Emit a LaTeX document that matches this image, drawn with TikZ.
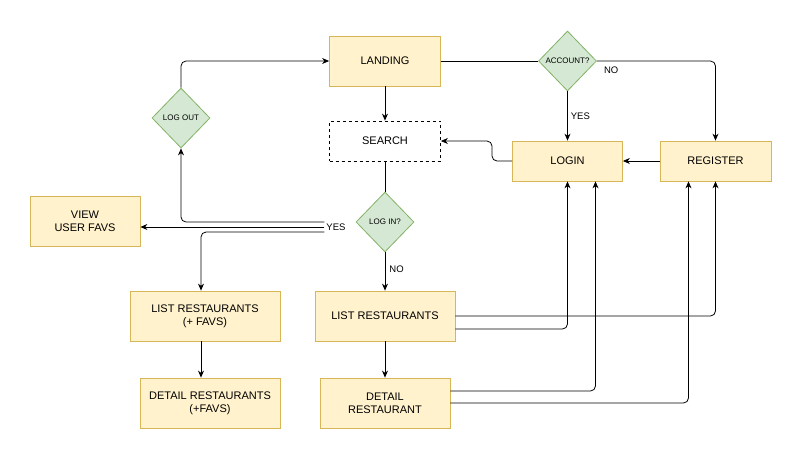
\documentclass[tikz,border=0pt]{standalone}
\usepackage{fontspec}
\setmainfont{Liberation Sans}
\usepackage{xcolor}
\usetikzlibrary{shapes.geometric, arrows.meta}
\definecolor{boxfill}{HTML}{FFF2CC}
\definecolor{boxline}{HTML}{D6B656}
\definecolor{choicefill}{HTML}{D5E8D4}
\definecolor{choiceline}{HTML}{82B366}
\tikzset{
  box/.style={draw=boxline, fill=boxfill, line width=0.8pt, align=center,
    font=\fontsize{11}{13}\selectfont, inner sep=0pt},
  choice/.style={diamond, draw=choiceline, fill=choicefill, line width=0.8pt,
    inner sep=0pt, minimum width=58pt, minimum height=60pt,
    font=\fontsize{8}{9}\selectfont},
  flow/.style={line width=0.8pt, rounded corners=5pt, -{Stealth[length=7pt,width=6pt]}},
  plain/.style={line width=0.8pt, rounded corners=5pt},
  tag/.style={font=\fontsize{9.5}{10}\selectfont, inner sep=1pt}
}
\begin{document}
\begin{tikzpicture}[x=1pt, y=-1pt]
  \useasboundingbox (0,0) rectangle (801,459);
  % Top row
  \node [box, minimum width=111pt, minimum height=50pt] (landing) at (385,61) {LANDING};
  \node [box, draw=black, fill=white, dashed, minimum width=111pt, minimum height=40pt] (search) at (385,141) {SEARCH};
  \node [choice] (account) at (567.5,61) {ACCOUNT?};
  \node [box, minimum width=110pt, minimum height=40pt] (login) at (567.5,161) {LOGIN};
  \node [box, minimum width=111pt, minimum height=40pt] (register) at (715.5,161) {REGISTER};
  % Middle
  \node [choice] (logout) at (181,118) {LOG OUT};
  \node [choice] (logincheck) at (385,222) {LOG IN?};
  \node [box, minimum width=110pt, minimum height=50pt] (favs) at (85,221) {VIEW\\USER FAVS};
  \node [tag, inner sep=2pt] (yes) at (336,227) {YES};
  % Bottom rows
  \node [box, minimum width=150pt, minimum height=50pt] (listfav) at (205,316) {LIST RESTAURANTS\\(+ FAVS)};
  \node [box, minimum width=140pt, minimum height=50pt] (detailfav) at (210,403) {DETAIL RESTAURANTS\\(+FAVS)};
  \node [box, minimum width=140pt, minimum height=50pt] (list) at (385,316) {LIST RESTAURANTS};
  \node [box, minimum width=130pt, minimum height=50pt] (detail) at (385,403) {DETAIL\\RESTAURANT};
  % Connectors
  \draw [flow] (logout.north) |- (landing.west);
  \draw [flow] (landing.south) -- (search.north);
  \draw [plain] (landing.east) -- (account.west);
  \draw [flow] (account.east) -| node [tag, pos=0.06, below, yshift=-4pt] {NO} (register.north);
  \draw [flow] (account.south) -- node [tag, right, xshift=2pt] {YES} (login.north);
  \draw [flow] (register.west) -- (login.east);
  \draw [flow] (login.west) -- (492,161) -- (492,141) -- (search.east);
  \draw [plain] (search.south) -- (logincheck.north);
  \draw [flow] (logincheck.south) -- node [tag, right, pos=0.45, xshift=3pt] {NO} (list.north);
  \draw [flow] ([yshift=5pt]yes.west) -| (logout.south);
  \draw [flow] (yes.west) -- (yes.west -| favs.east);
  \draw [flow] ([yshift=-5pt]yes.west) -| ([xshift=-4pt]listfav.north);
  \draw [flow] ([xshift=-4pt]listfav.south) -- ([xshift=-4pt]listfav.south |- detailfav.north);
  \draw [flow] (list.south) -- (detail.north);
  \draw [flow] (list.east) -| (register.south);
  \draw [flow] ([yshift=-13pt]list.east) -| (login.south);
  \draw [flow] ([yshift=12pt]detail.east) -| ([xshift=28pt]login.south);
  \draw [flow] (detail.east) -| ([xshift=-27pt]register.south);
\end{tikzpicture}
\end{document}
